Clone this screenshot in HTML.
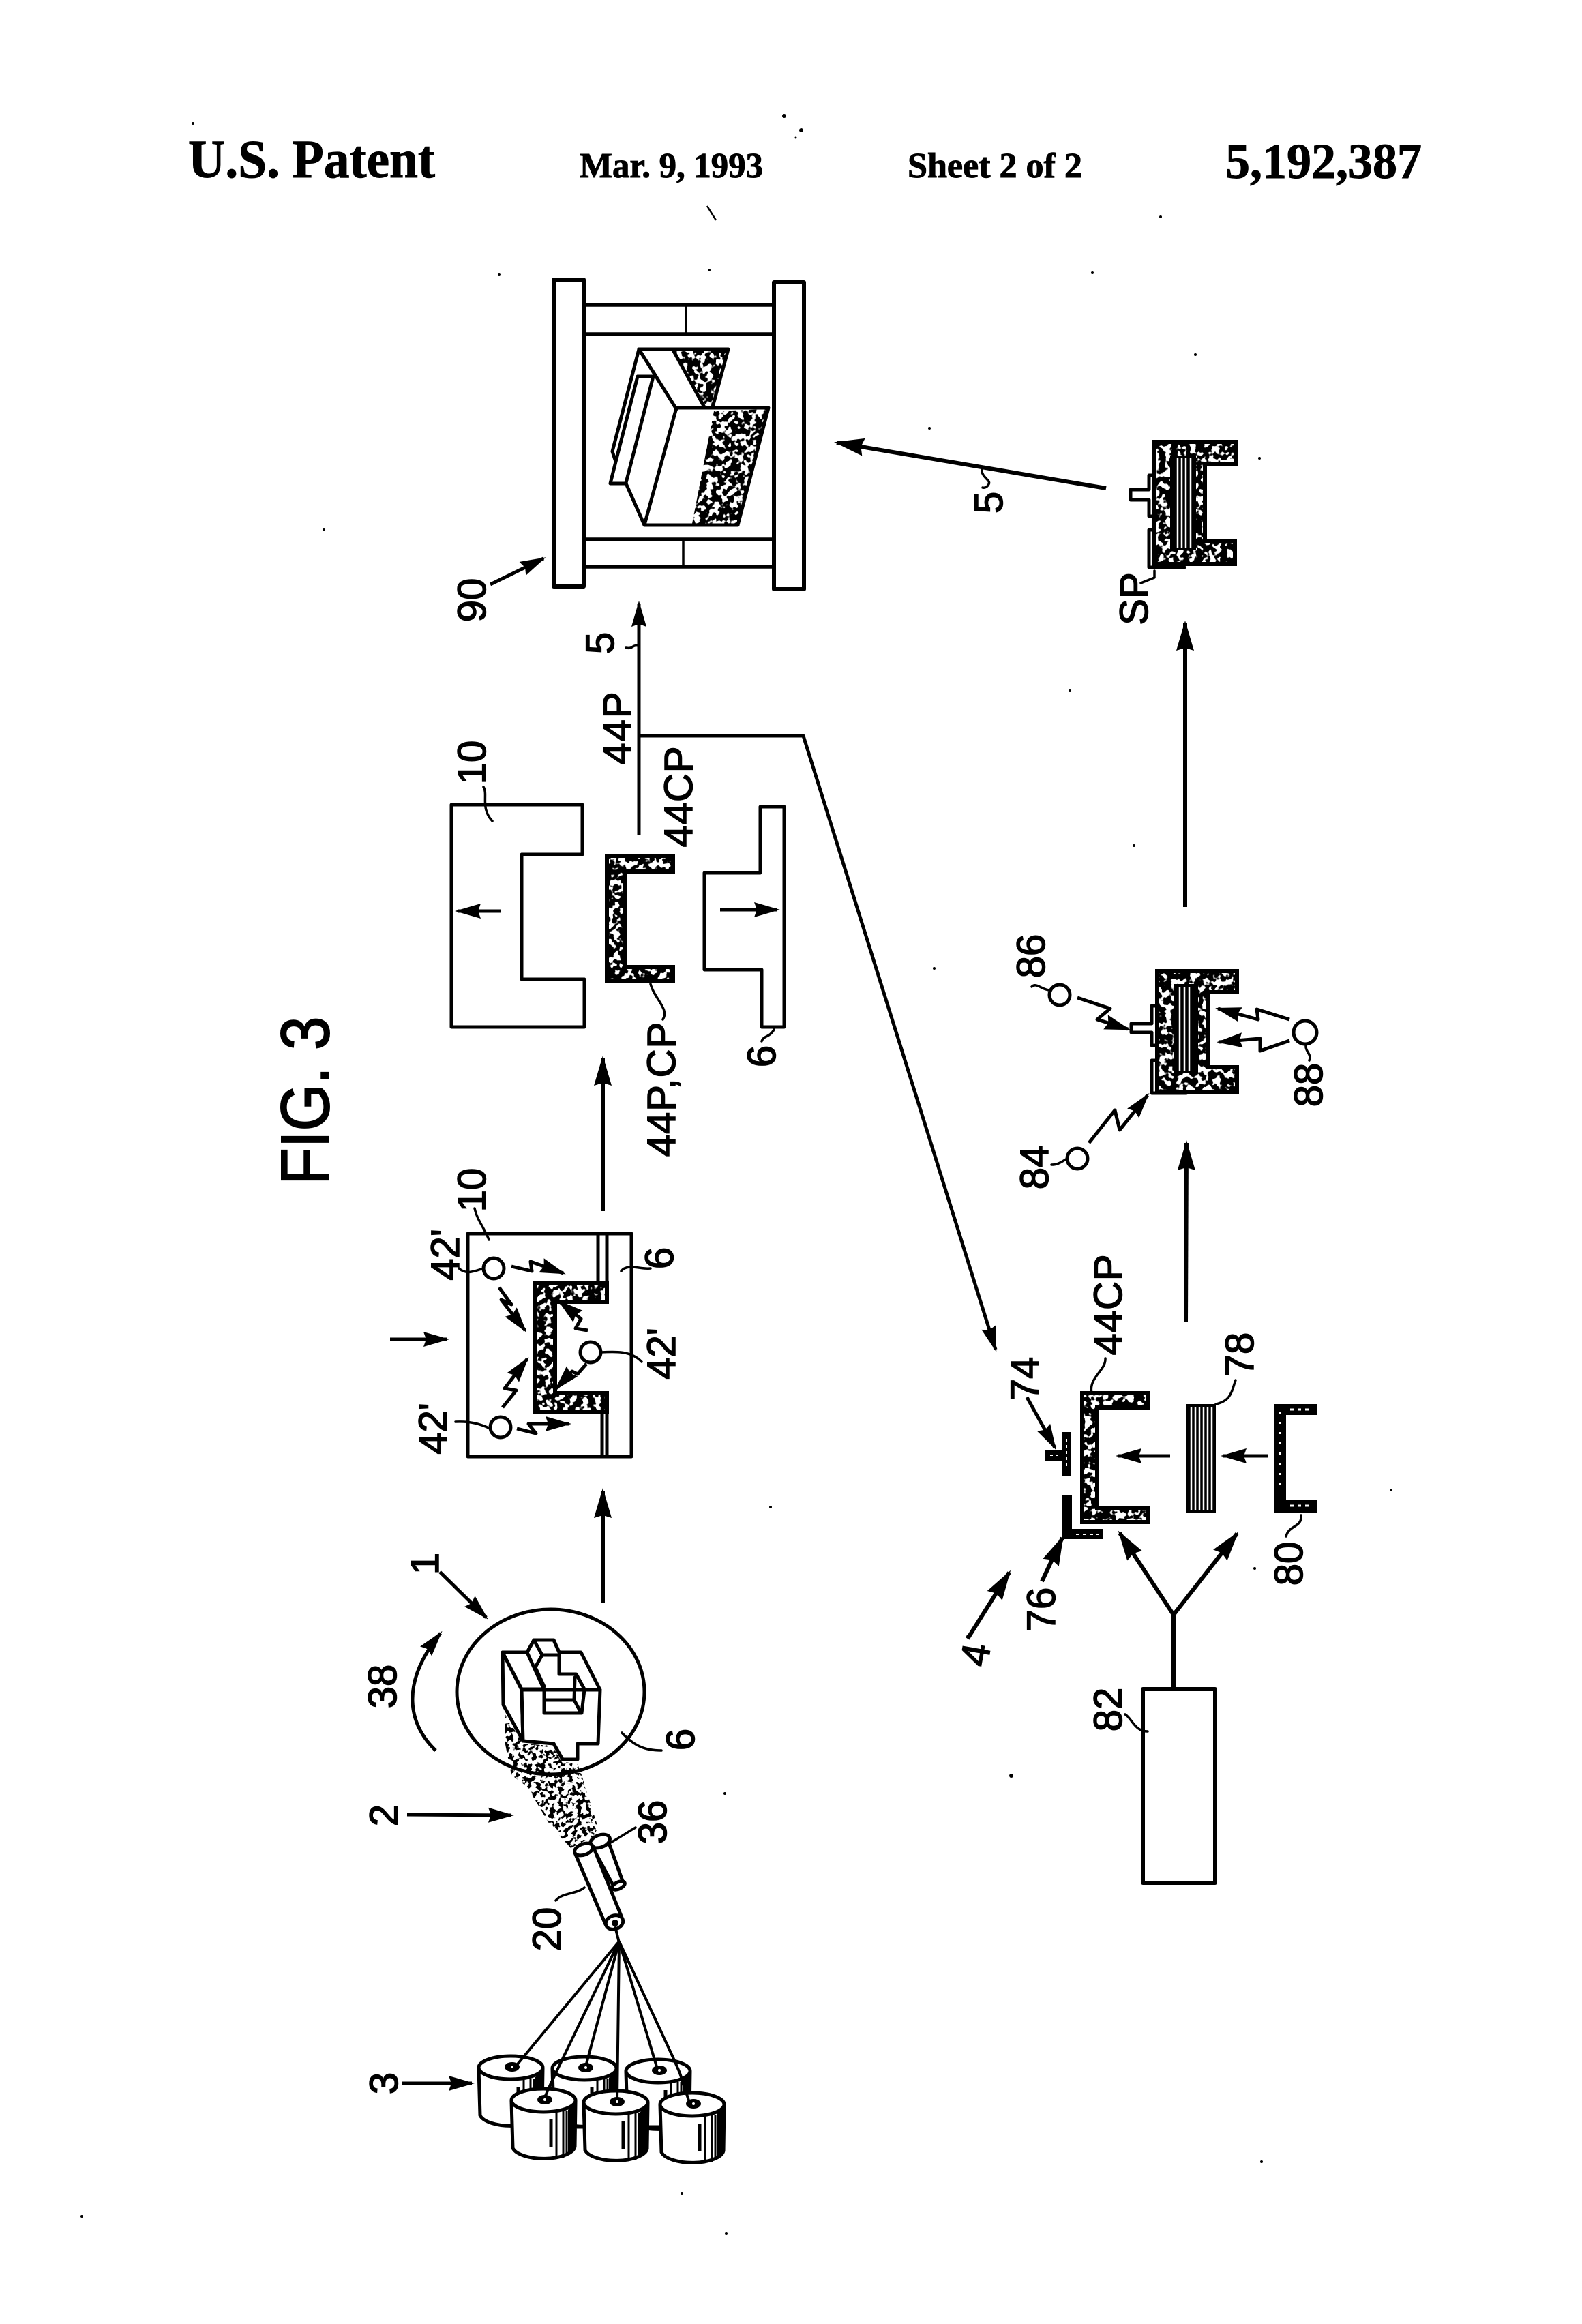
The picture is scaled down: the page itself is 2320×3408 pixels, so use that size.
<!DOCTYPE html>
<html><head><meta charset="utf-8">
<style>
html,body{margin:0;padding:0;background:#fff;width:2320px;height:3408px;overflow:hidden}
svg{display:block}
.l{font-family:"Liberation Sans",sans-serif;font-size:58px;text-anchor:middle;fill:#000;stroke:#000;stroke-width:1.5}
.h{font-family:"Liberation Serif",serif;font-weight:bold;fill:#000;stroke:#000;stroke-width:1}
.o{fill:none;stroke:#000;stroke-width:5;stroke-linejoin:round;stroke-linecap:round}
.w{fill:#fff;stroke:#000;stroke-width:5;stroke-linejoin:round}
.t{fill:none;stroke:#000;stroke-width:3.5;stroke-linecap:round;stroke-linejoin:round}
.a{fill:none;stroke:#000;stroke-width:5;marker-end:url(#m);stroke-linejoin:round}
.b{fill:none;stroke:#000;stroke-width:6;marker-end:url(#n);stroke-linejoin:round}
.s{fill:#000;filter:url(#sp)}
.e{fill:none;stroke:#000;stroke-width:6;stroke-linejoin:round}
.v{stroke:#fff;stroke-width:2.5}
</style></head><body>
<svg xmlns="http://www.w3.org/2000/svg" width="2320" height="3408" viewBox="0 0 2320 3408">
<defs>
<marker id="m" markerUnits="userSpaceOnUse" markerWidth="50" markerHeight="36" refX="38" refY="18" orient="auto"><path d="M42 18L4 7L8 18L4 29Z" fill="#000"/></marker>
<marker id="n" markerUnits="userSpaceOnUse" markerWidth="60" markerHeight="44" refX="46" refY="22" orient="auto"><path d="M50 22L6 9L10 22L6 35Z" fill="#000"/></marker>
<filter id="sp" x="0" y="0" width="1" height="1" color-interpolation-filters="sRGB">
<feTurbulence type="fractalNoise" baseFrequency=".11" numOctaves="2" seed="4"/>
<feColorMatrix values="0 0 0 0 0  0 0 0 0 0  0 0 0 0 0  16 0 0 0 -7"/>
<feComposite in2="SourceGraphic" operator="in"/>
</filter>
<filter id="sq" x="0" y="0" width="1" height="1" color-interpolation-filters="sRGB">
<feTurbulence type="fractalNoise" baseFrequency=".15" numOctaves="2" seed="9"/>
<feColorMatrix values="0 0 0 0 0  0 0 0 0 0  0 0 0 0 0  22 0 0 0 -11"/>
<feComposite in2="SourceGraphic" operator="in"/>
</filter>
<g id="can">
<path class="w" d="M-47 1L-45 70A46 19 0 0 0 46 68L47 1Z"/>
<path d="M36 14L48 4L47 68L36 78Z" fill="#000"/>
<path d="M19 18V86M29 16V84M34 16V82" stroke="#000" stroke-width="3"/>
<path d="M11 28V68" stroke="#000" stroke-width="5"/>
<ellipse class="w" cx="0" cy="0" rx="47" ry="17"/>
<ellipse cx="2" cy="-1" rx="11" ry="7" fill="#000"/><circle cx="2" cy="-1" r="2" fill="#fff"/>
</g>
</defs>
<rect width="2320" height="3408" fill="#fff"/>

<!-- header -->
<text class="h" x="276" y="260" font-size="79" textLength="362" lengthAdjust="spacingAndGlyphs">U.S. Patent</text>
<text class="h" x="850" y="260" font-size="52" textLength="269" lengthAdjust="spacingAndGlyphs">Mar. 9, 1993</text>
<text class="h" x="1331" y="260" font-size="52" textLength="256" lengthAdjust="spacingAndGlyphs">Sheet 2 of 2</text>
<text class="h" x="1797" y="261" font-size="73" textLength="288" lengthAdjust="spacingAndGlyphs">5,192,387</text>

<text transform="translate(482,1614) rotate(-90)" font-family="Liberation Sans,sans-serif" font-size="100" text-anchor="middle" stroke="#000" stroke-width="2" textLength="247" lengthAdjust="spacingAndGlyphs">FIG. 3</text>

<!-- press 90 -->
<rect class="e" x="812" y="410" width="44" height="450"/>
<rect class="e" x="1135" y="414" width="44" height="450"/>
<path d="M856 447H1135M856 490H1135M856 791H1135M856 831H1135" stroke="#000" stroke-width="5.5"/>
<path d="M1006 447V490M1002 791V831" stroke="#000" stroke-width="3.5"/>
<path class="s" d="M990 515L1066 514L1044 595L1035 595Z"/>
<path class="s" d="M1047 603L1125 600L1082 768L1015 768Z"/>
<path class="o" d="M937 512H1068L1045 597M988 515L1033 597M937 512L992 600M1127 598H992L945 770H1082L1127 598"/>
<path class="o" d="M937 512L898 662L903 677L895 709H918L945 770M935 552H958L918 708M935 552L903 677"/>
<path class="a" d="M719 857L797 819"/>
<text class="l" transform="translate(712,880) rotate(-90)">90</text>

<!-- diagonal arrow 5 -->
<path class="b" d="M1622 716L1227 649"/>
<path class="t" d="M1440 687C1438 700 1454 704 1450 710C1448 714 1444 716 1441 715"/>
<text class="l" transform="translate(1470,737) rotate(-90)">5</text>

<!-- SP part -->
<path d="M1693 648H1812V680H1767V793H1811V827H1693Z" fill="#fff"/>
<path class="s" d="M1693 648H1812V680H1767V793H1811V827H1693Z"/>
<rect x="1716" y="668" width="38" height="138" fill="#000"/>
<path class="v" d="M1727 672V803M1733 672V803M1739 672V803M1746 672V803"/>
<path d="M1693 648H1812V680H1767V793H1811V827H1693Z" fill="none" stroke="#000" stroke-width="6"/>
<path class="o" d="M1693 697H1685V718H1658V733H1685V757H1693M1693 777H1685V832H1737"/>
<path class="t" d="M1693 837V847L1673 855"/>
<text class="l" transform="translate(1683,878) rotate(-90)">SP</text>
<path class="b" d="M1738 1330V914"/>

<!-- central lines -->
<path class="a" d="M937 1225V885"/>
<path class="t" d="M937 947C925 945 930 952 918 950"/>
<text class="l" transform="translate(900,943) rotate(-90)">5</text>
<text class="l" letter-spacing="2" transform="translate(925,1067) rotate(-90)">44P</text>
<text class="l" letter-spacing="1" transform="translate(1015,1168) rotate(-90)">44CP</text>
<path class="a" d="M937 1079H1178L1460 1979"/>

<!-- top mold 10 -->
<path class="o" d="M662 1180H854V1253H765V1436H857V1506H662Z"/>
<text class="l" transform="translate(712,1118) rotate(-90)">10</text>
<path class="t" d="M709 1154C716 1165 704 1185 722 1204"/>
<path class="a" d="M735 1336H671"/>

<!-- U 44P,CP -->
<path d="M890 1255H987V1278H916V1418H987V1439H890Z" fill="#fff"/>
<path class="s" d="M890 1255H987V1278H916V1418H987V1439H890Z"/>
<path d="M890 1255H987V1278H916V1418H987V1439H890Z" fill="none" stroke="#000" stroke-width="6"/>
<path class="t" d="M954 1443C960 1465 982 1480 972 1495"/>
<text class="l" letter-spacing="1" transform="translate(990,1597) rotate(-90)">44P,CP</text>

<!-- mold 6 -->
<path class="o" d="M1115 1183H1150V1506H1117V1422H1033V1280H1115Z"/>
<path class="a" d="M1056 1334H1140"/>
<path class="t" d="M1135 1510C1128 1522 1120 1518 1117 1527"/>
<text class="l" transform="translate(1137,1549) rotate(-90)">6</text>

<path class="b" d="M884 1776V1552"/>

<!-- closed mould box -->
<rect class="o" x="686" y="1809" width="240" height="327"/>
<path class="o" d="M877 1809V1881M890 1809V1881M883 2071V2136M890 2071V2136"/>
<path d="M784 1881H890V1909H814V2043H890V2071H784Z" fill="#fff"/>
<path class="s" d="M784 1881H890V1909H814V2043H890V2071H784Z"/>
<path d="M784 1881H890V1909H814V2043H890V2071H784Z" fill="none" stroke="#000" stroke-width="6"/>
<circle class="o" cx="724" cy="1860" r="15"/>
<circle class="o" cx="734" cy="2093" r="15"/>
<circle class="o" cx="866" cy="1983" r="15"/>
<path class="a" d="M750 1857L780 1864L778 1850L826 1867"/>
<path class="a" d="M732 1888L750 1913L735 1906L770 1951"/>
<path class="a" d="M737 2064L757 2039L740 2036L773 1993"/>
<path class="a" d="M758 2095L786 2102L775 2088L834 2088"/>
<path class="a" d="M862 1951L844 1948L852 1934L821 1909"/>
<path class="a" d="M860 2000L847 2015L839 2011L816 2036"/>
<path class="t" d="M673 1860C684 1870 696 1864 709 1860"/>
<path class="t" d="M668 2085C690 2084 704 2088 719 2095"/>
<path class="t" d="M882 1983C900 1982 925 1980 941 1997"/>
<path class="t" d="M911 1864C920 1852 940 1862 954 1860"/>
<path class="t" d="M696 1772C700 1790 710 1800 717 1818"/>
<text class="l" transform="translate(712,1745) rotate(-90)">10</text>
<text class="l" transform="translate(673,1840) rotate(-90)">42'</text>
<text class="l" transform="translate(655,2095) rotate(-90)">42'</text>
<text class="l" transform="translate(990,1985) rotate(-90)">42'</text>
<text class="l" transform="translate(987,1845) rotate(-90)">6</text>
<path class="a" d="M572 1964H655"/>
<path class="b" d="M884 2350V2186"/>

<!-- wheel -->
<ellipse class="o" cx="807.5" cy="2481" rx="137.5" ry="121"/>
<path d="M740 2513L767 2557L810 2560L823 2583L847 2587L853 2603L877 2680L870 2693L837 2710L807 2677L773 2620L750 2603L740 2553Z" fill="#000" filter="url(#sq)"/>
<path class="w" d="M737 2423L765 2478L767 2553L738 2500Z"/>
<path class="w" d="M737 2423H773L798 2477H765Z"/>
<path class="w" d="M773 2423L783 2405H812L820 2423H852L880 2478H798Z"/>
<path class="w" d="M765 2478H798V2512H853L857 2478H880L877 2557H847V2580H825L812 2557L767 2553Z"/>
<path class="o" d="M773 2423L783 2405L795 2427L785 2445M795 2427H820V2455H845L857 2477M785 2445L798 2473M843 2460L842 2493H800M842 2493L850 2508M783 2405H812L820 2423M812 2557L825 2580"/>
<path class="a" d="M645 2305L713 2372"/>
<text class="l" transform="translate(643,2293) rotate(-90)">1</text>
<path class="a" d="M639 2567C600 2530 585 2470 646 2395"/>
<text class="l" transform="translate(581,2473) rotate(-90)">38</text>
<text class="l" transform="translate(583,2662) rotate(-90)">2</text>
<path class="a" d="M597 2661L750 2662"/>
<path class="t" d="M912 2541C930 2560 945 2567 970 2567"/>
<text class="l" transform="translate(1018,2551) rotate(-90)">6</text>
<text class="l" transform="translate(977,2672) rotate(-90)">36</text>
<path class="t" d="M892 2704C910 2694 915 2690 932 2680"/>
<text class="l" transform="translate(822,2829) rotate(-90)">20</text>
<path class="t" d="M815 2787C825 2775 845 2778 857 2768"/>

<!-- nozzles -->
<path class="w" d="M867 2705L901 2768L914 2761L892 2700Z"/>
<ellipse class="w" cx="880" cy="2700" rx="15" ry="9" transform="rotate(-20 880 2700)"/>
<ellipse class="w" cx="907" cy="2765" rx="10" ry="5" transform="rotate(-25 907 2765)"/>
<path class="w" d="M843 2717L888 2822L912 2812L870 2708Z"/>
<ellipse class="w" cx="856" cy="2712" rx="14" ry="8" transform="rotate(-20 856 2712)"/>
<ellipse class="w" cx="901" cy="2819" rx="13" ry="10" transform="rotate(-20 901 2819)"/>
<circle cx="902" cy="2820" r="5" fill="#000"/>

<!-- spools -->
<use href="#can" x="749" y="3032"/>
<use href="#can" x="857" y="3033"/>
<use href="#can" x="965" y="3037"/>
<path d="M846 3119H855M950 3119H967" stroke="#000" stroke-width="5"/>
<use href="#can" x="797" y="3080"/>
<use href="#can" x="903" y="3083"/>
<use href="#can" x="1015" y="3086"/>
<g stroke="#000" stroke-width="4" fill="none">
<path d="M902 2825L908 2849"/>
<path d="M908 2847L758 3028M908 2847L827 3015L807 3057L800 3073M908 2847L859 3030M908 2847L905 3080M908 2847L964 3034M908 2847L987 3017L997 3040L1010 3080"/>
</g>
<text class="l" transform="translate(583,3055) rotate(-90)">3</text>
<path class="a" d="M589 3055H692"/>

<!-- right column -->
<text class="l" transform="translate(1532,1402) rotate(-90)">86</text>
<path class="t" d="M1513 1447C1520 1440 1528 1452 1540 1452"/>
<circle class="o" cx="1554" cy="1459" r="15"/>
<path class="a" d="M1580 1463L1628 1479L1609 1495L1654 1509"/>

<path d="M1697 1424H1814V1455H1771V1565H1814V1601H1697Z" fill="#fff"/>
<path class="s" d="M1697 1424H1814V1455H1771V1565H1814V1601H1697Z"/>
<rect x="1721" y="1443" width="36" height="131" fill="#000"/>
<path class="v" d="M1730 1448V1570M1737 1448V1570M1744 1448V1570"/>
<path d="M1697 1424H1814V1455H1771V1565H1814V1601H1697Z" fill="none" stroke="#000" stroke-width="6"/>
<path class="o" d="M1697 1475H1689V1501H1659V1514H1689V1533H1697M1697 1555H1689V1603H1740"/>

<text class="l" transform="translate(1537,1712) rotate(-90)">84</text>
<path class="t" d="M1542 1708C1552 1708 1556 1704 1565 1699"/>
<circle class="o" cx="1580" cy="1699" r="15"/>
<path class="a" d="M1597 1676L1635 1628L1642 1657L1683 1606"/>
<text class="l" transform="translate(1939,1591) rotate(-90)">88</text>
<circle class="o" cx="1914" cy="1514" r="17"/>
<path class="t" d="M1915 1533C1914 1542 1924 1546 1920 1555"/>
<path class="a" d="M1891 1495L1843 1480L1845 1495L1786 1479"/>
<path class="a" d="M1891 1526L1848 1541L1848 1523L1788 1528"/>
<path class="b" d="M1739 1938L1740 1676"/>

<!-- lower assembly -->
<text class="l" transform="translate(1523,2022) rotate(-90)">74</text>
<path class="a" d="M1506 2049L1547 2123"/>
<path d="M1558 2100H1571V2164H1558V2142H1532V2126H1558Z" fill="#000"/>
<path d="M1564 2110V2154M1540 2134H1552" stroke="#fff" stroke-width="2" stroke-dasharray="4 5"/>
<path d="M1557 2193H1572V2242H1618V2257H1557Z" fill="#000"/>
<path d="M1578 2250H1612" stroke="#fff" stroke-width="2" stroke-dasharray="5 5"/>

<path d="M1587 2043H1683V2064H1609V2211H1683V2232H1587Z" fill="#fff"/>
<path class="s" d="M1587 2043H1683V2064H1609V2211H1683V2232H1587Z"/>
<path d="M1587 2043H1683V2064H1609V2211H1683V2232H1587Z" fill="none" stroke="#000" stroke-width="6"/>
<text class="l" letter-spacing="1" transform="translate(1645,1913) rotate(-90)">44CP</text>
<path class="t" d="M1621 1992C1622 2010 1596 2020 1601 2043"/>

<rect x="1740" y="2059" width="43" height="159" fill="#000"/>
<path class="v" d="M1747 2063V2214M1753 2063V2214M1759 2063V2214M1765 2063V2214M1771 2063V2214M1777 2063V2214"/>
<text class="l" transform="translate(1838,1986) rotate(-90)">78</text>
<path class="t" d="M1812 2024C1806 2040 1806 2054 1783 2059"/>

<path d="M1869 2059H1932V2075H1886V2200H1932V2218H1869Z" fill="#000"/>
<path d="M1877 2070V2190" stroke="#fff" stroke-width="2" stroke-dasharray="3 12"/>
<path d="M1892 2067H1925M1892 2208H1925" stroke="#fff" stroke-width="3" stroke-dasharray="5 6"/>
<path class="t" d="M1908 2222C1910 2240 1890 2236 1886 2253"/>
<text class="l" transform="translate(1910,2293) rotate(-90)">80</text>
<path class="a" d="M1716 2135H1640"/>
<path class="a" d="M1860 2135H1794"/>

<path class="b" d="M1721 2368L1642 2248"/>
<path class="b" d="M1721 2368L1814 2249"/>
<path d="M1721 2368V2477" stroke="#000" stroke-width="6"/>
<rect class="e" x="1676" y="2477" width="106" height="284"/>
<text class="l" transform="translate(1645,2507) rotate(-90)">82</text>
<path class="t" d="M1650 2514C1660 2520 1664 2539 1683 2539"/>
<text class="l" transform="translate(1547,2360) rotate(-90)">76</text>
<path class="b" d="M1528 2319L1558 2255"/>
<text class="l" transform="translate(1450,2430) rotate(-80)">4</text>
<path class="b" d="M1419 2403L1480 2306"/>

<!-- specks -->
<g fill="#000">
<circle cx="1150" cy="170" r="3"/><circle cx="1175" cy="191" r="3"/><circle cx="1167" cy="202" r="1.5"/>
<circle cx="283" cy="181" r="2"/><circle cx="1702" cy="318" r="2"/><circle cx="1753" cy="520" r="2"/>
<circle cx="1602" cy="400" r="2"/><circle cx="1040" cy="396" r="2"/><circle cx="732" cy="403" r="2"/>
<circle cx="1363" cy="628" r="2"/><circle cx="475" cy="777" r="2"/><circle cx="1847" cy="672" r="2"/>
<circle cx="1569" cy="1013" r="2"/><circle cx="1663" cy="1240" r="2"/><circle cx="1370" cy="1420" r="2"/>
<circle cx="1130" cy="2210" r="2"/><circle cx="1420" cy="2400" r="3"/><circle cx="1483" cy="2604" r="3"/>
<circle cx="2040" cy="2185" r="2"/><circle cx="1840" cy="2300" r="2"/><circle cx="1063" cy="2630" r="2"/>
<circle cx="1000" cy="3217" r="2"/><circle cx="1065" cy="3275" r="2"/><circle cx="120" cy="3250" r="2"/>
<circle cx="1850" cy="3170" r="2"/>
</g>
<path d="M1037 302L1050 323" stroke="#000" stroke-width="2.5"/>
</svg>
</body></html>
